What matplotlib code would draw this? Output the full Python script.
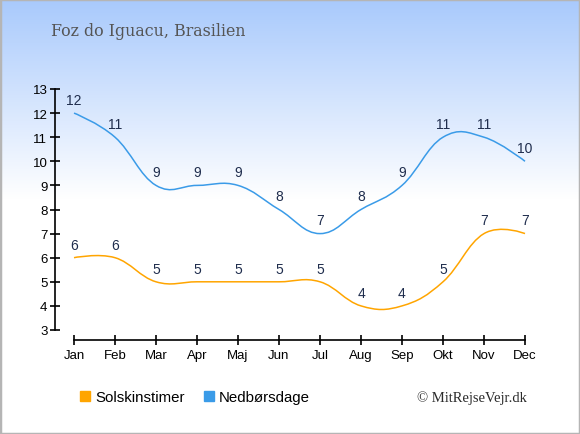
import numpy as np
import matplotlib
matplotlib.use("Agg")
import matplotlib.pyplot as plt
from matplotlib.path import Path
from matplotlib.patches import PathPatch
from matplotlib.lines import Line2D

months = ["Jan", "Feb", "Mar", "Apr", "Maj", "Jun", "Jul", "Aug", "Sep", "Okt", "Nov", "Dec"]
sun_hours = [6, 6, 5, 5, 5, 5, 5, 4, 4, 5, 7, 7]
rain_days = [12, 11, 9, 9, 9, 8, 7, 8, 9, 11, 11, 10]
yticks = [3, 4, 5, 6, 7, 8, 9, 10, 11, 12, 13]
title = "Foz do Iguacu, Brasilien"
series_names = ["Solskinstimer", "Nedbørsdage"]
credit = "© MitRejseVejr.dk"

ORANGE = "#ffa500"
BLUE = "#3a9be8"
LABEL = "#1f2d4d"

W, H = 580, 435
fig = plt.figure(figsize=(W / 100, H / 100), dpi=100)

# background gradient
bg = fig.add_axes([0, 0, 1, 1], zorder=-10)
bg.set_axis_off()
n = 435
t = np.linspace(0, 1, n)
top = np.array([0.66, 0.79, 0.99])
white = np.array([1.0, 1.0, 1.0])
frac = np.clip(t / (200 / 435), 0, 1)[:, None]
grad = top * (1 - frac) + white * frac
img = np.repeat(grad[:, None, :], 2, axis=1)
bg.imshow(img, aspect="auto", extent=[0, 1, 0, 1], origin="upper")
bg.set_xlim(0, 1)
bg.set_ylim(0, 1)
bg.add_patch(plt.Rectangle((0, 0), 1, 1, transform=bg.transAxes, fill=False,
                           edgecolor="#b5b5b5", linewidth=2.5))

# main axes: x=0 at px 74, x=11 at px 525; y=13 at px 90, y=3 at px 331
xpu = (525 - 74) / 11
ypu = (331 - 90) / 10
left_px, right_px, top_px, bot_px = 55, 545, 80, 341
xmin = 0 - (74 - left_px) / xpu
xmax = 11 + (right_px - 525) / xpu
ymin = 3 - (bot_px - 331) / ypu
ymax = 13 + (90 - top_px) / ypu
ax = fig.add_axes([left_px / W, 1 - bot_px / H, (right_px - left_px) / W, (bot_px - top_px) / H])
ax.set_facecolor("none")
ax.set_xlim(xmin, xmax)
ax.set_ylim(ymin, ymax)
for s in ["top", "right"]:
    ax.spines[s].set_visible(False)
ax.spines["left"].set_bounds(3, 13)
ax.spines["bottom"].set_bounds(0, 11)
for s in ["left", "bottom"]:
    ax.spines[s].set_linewidth(1.2)
    ax.spines[s].set_color("black")
x = np.arange(len(months))
ax.set_xticks(x)
ax.set_xticklabels(months)
ax.set_yticks(yticks)
ax.tick_params(direction="inout", length=7, width=1.2, labelsize=9.5)
for lab in ax.get_xticklabels() + ax.get_yticklabels():
    lab.set_fontfamily("Liberation Sans")
ax.tick_params(axis="x", pad=3)
ax.tick_params(axis="y", pad=2)


def spline_path(xs, ys):
    xs = list(map(float, xs))
    ys = list(map(float, ys))
    sm = 1.5
    d = sm + 1
    verts = [(xs[0], ys[0])]
    codes = [Path.MOVETO]
    ctrl = []
    for i in range(len(xs)):
        if i == 0 or i == len(xs) - 1:
            ctrl.append(((xs[i], ys[i]), (xs[i], ys[i])))
            continue
        px, py = xs[i], ys[i]
        lx, ly = xs[i - 1], ys[i - 1]
        nx, ny = xs[i + 1], ys[i + 1]
        lcx = (sm * px + lx) / d
        lcy = (sm * py + ly) / d
        rcx = (sm * px + nx) / d
        rcy = (sm * py + ny) / d
        corr = ((rcy - lcy) * (rcx - px)) / (rcx - lcx) + py - rcy
        lcy += corr
        rcy += corr
        ctrl.append(((lcx, lcy), (rcx, rcy)))
    for i in range(1, len(xs)):
        verts += [ctrl[i - 1][1], ctrl[i][0], (xs[i], ys[i])]
        codes += [Path.CURVE4] * 3
    return Path(verts, codes)


for vals, col in [(sun_hours, ORANGE), (rain_days, BLUE)]:
    ax.add_patch(PathPatch(spline_path(x, vals), facecolor="none", edgecolor=col,
                           linewidth=1.1, zorder=3))
    for xi, v in zip(x, vals):
        ax.annotate(str(v), (xi, v), xytext=(0, 9.5), textcoords="offset points",
                    ha="center", va="center", fontsize=10, color=LABEL,
                    fontfamily="Liberation Sans", zorder=4)

fig.text(51 / W, 1 - 32 / H, title, fontsize=11.4, fontfamily="DejaVu Serif",
         color="#555555", ha="left", va="center")

handles = [Line2D([], [], linestyle="none", marker="s", markersize=6.8,
                  markerfacecolor=c, markeredgecolor=c) for c in (ORANGE, BLUE)]
fig.legend(handles, series_names, loc="center left", bbox_to_anchor=(65 / W, 1 - 398 / H),
           ncol=2, frameon=False, handlelength=0.8, handletextpad=0.3, columnspacing=1.2,
           prop={"family": "Liberation Sans", "size": 10.8})

fig.text(527 / W, 1 - 398 / H, credit, fontsize=10.5, fontfamily="Liberation Serif",
         color="#2a2a2a", ha="right", va="center")

fig.savefig("out.png", dpi=100)
